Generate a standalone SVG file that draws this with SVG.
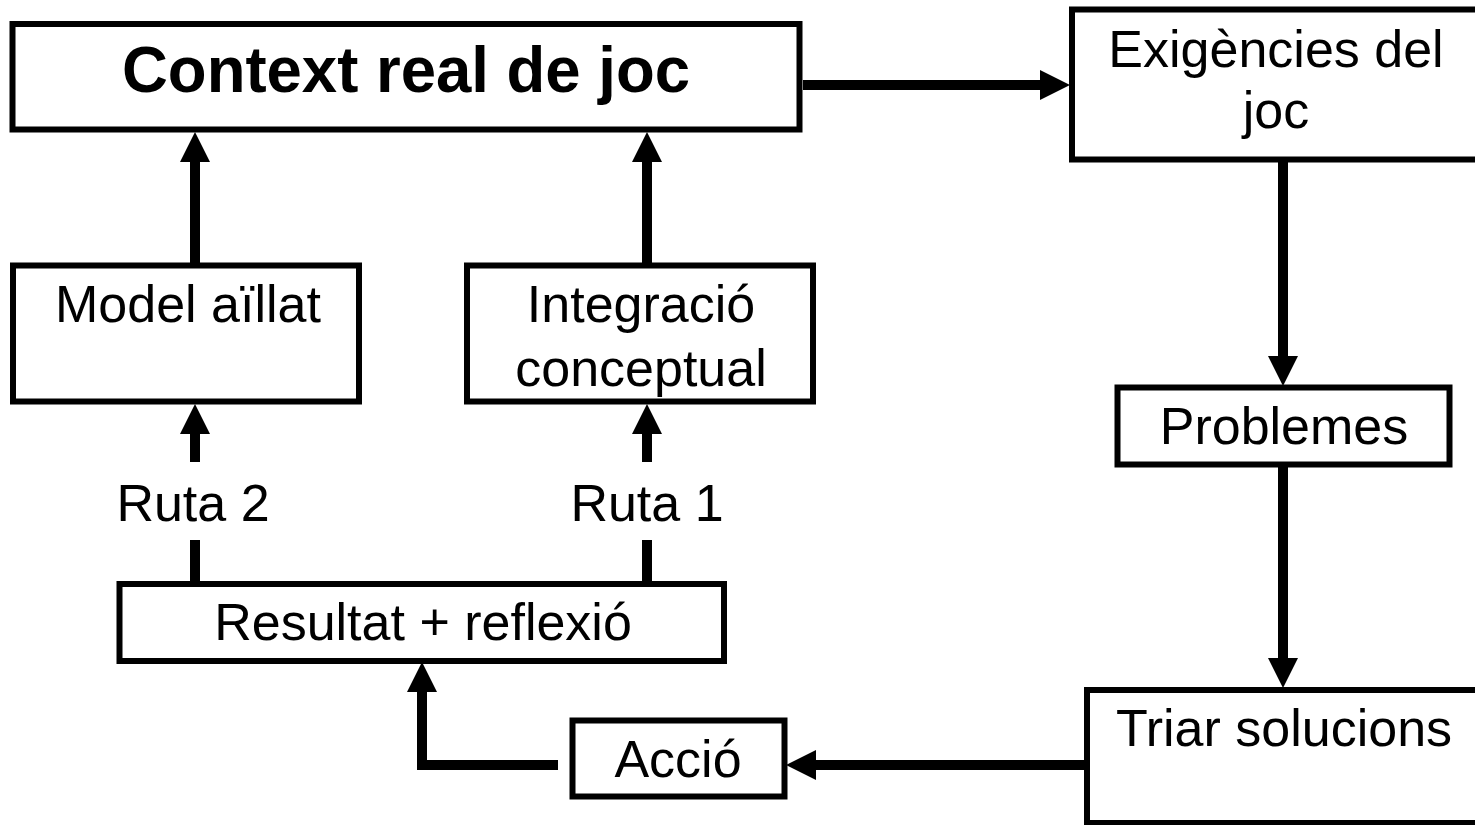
<svg xmlns="http://www.w3.org/2000/svg" width="1475" height="825" viewBox="0 0 1475 825">
<style>
.box{fill:#fff;stroke:#000;stroke-width:6}
.t{font-family:"Liberation Sans",Arial,sans-serif;font-size:52px;fill:#000;text-anchor:middle}
.b{font-weight:bold;font-size:64px}
.c{fill:none;stroke:#000;stroke-width:10}
</style>
<defs>
<marker id="ah" markerUnits="userSpaceOnUse" markerWidth="30" markerHeight="30" refX="0" refY="15" orient="auto" viewBox="0 0 30 30">
<path d="M0,0 L30,15 L0,30 z" fill="#000"/>
</marker>
</defs>
<rect width="1475" height="825" fill="#fff"/>
<g id="connectors">
<line class="c" x1="803" y1="85" x2="1040" y2="85" marker-end="url(#ah)"/>
<line class="c" x1="195" y1="263" x2="195" y2="162" marker-end="url(#ah)"/>
<line class="c" x1="647" y1="263" x2="647" y2="162" marker-end="url(#ah)"/>
<line class="c" x1="195" y1="582" x2="195" y2="540"/>
<line class="c" x1="195" y1="462" x2="195" y2="434" marker-end="url(#ah)"/>
<line class="c" x1="647" y1="582" x2="647" y2="540"/>
<line class="c" x1="647" y1="462" x2="647" y2="434" marker-end="url(#ah)"/>
<line class="c" x1="1283" y1="162" x2="1283" y2="356" marker-end="url(#ah)"/>
<line class="c" x1="1283" y1="467" x2="1283" y2="658" marker-end="url(#ah)"/>
<line class="c" x1="1085" y1="765" x2="816" y2="765" marker-end="url(#ah)"/>
<polyline class="c" points="558,765 422,765 422,692" marker-end="url(#ah)"/>
</g>
<g id="context">
<rect class="box" x="12.5" y="24" width="787" height="105.5"/>
<text class="t b" x="406" y="92" textLength="568" lengthAdjust="spacingAndGlyphs">Context real de joc</text>
</g>
<g id="exigencies">
<rect class="box" x="1072" y="9.5" width="420" height="150"/>
<text class="t" x="1276" y="67">Exigències del</text>
<text class="t" x="1276" y="128">joc</text>
</g>
<g id="model">
<rect class="box" x="13" y="265.5" width="346" height="136"/>
<text class="t" x="188" y="322">Model aïllat</text>
</g>
<g id="integracio">
<rect class="box" x="467" y="265.5" width="346" height="136"/>
<text class="t" x="641" y="322">Integració</text>
<text class="t" x="641" y="386">conceptual</text>
</g>
<g id="ruta2"><text class="t" x="193" y="521">Ruta 2</text></g>
<g id="ruta1"><text class="t" x="647" y="521">Ruta 1</text></g>
<g id="resultat">
<rect class="box" x="119.5" y="584" width="604.5" height="77"/>
<text class="t" x="423" y="640">Resultat + reflexió</text>
</g>
<g id="problemes">
<rect class="box" x="1117.5" y="387.5" width="332" height="77"/>
<text class="t" x="1284" y="444">Problemes</text>
</g>
<g id="triar">
<rect class="box" x="1087" y="690" width="400" height="133"/>
<text class="t" x="1284" y="746">Triar solucions</text>
</g>
<g id="accio">
<rect class="box" x="572.5" y="720.5" width="212" height="76"/>
<text class="t" x="678" y="777">Acció</text>
</g>
</svg>
